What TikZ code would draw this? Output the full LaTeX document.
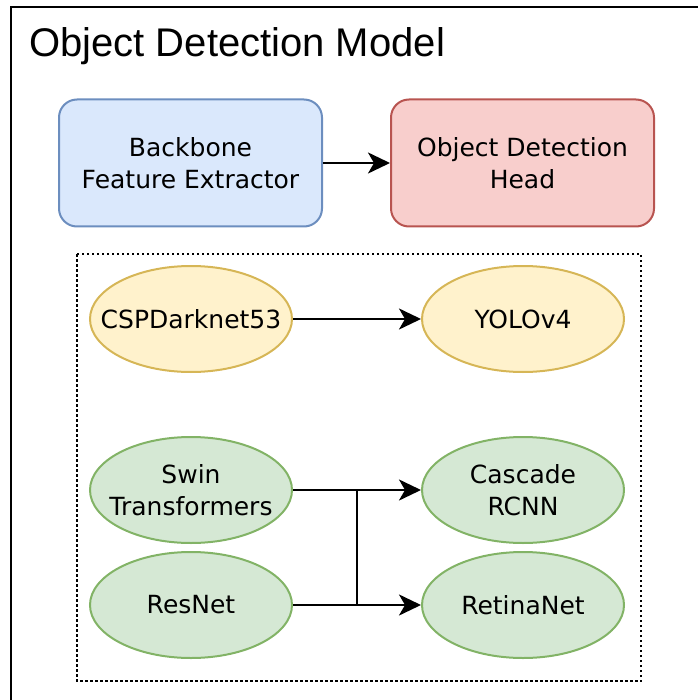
\documentclass[tikz,border=0pt]{standalone}
\usepackage{fontspec}
\setmainfont{DejaVu Sans}
\newfontfamily\titlefont{Liberation Sans}
\usepackage{tikz}
\usetikzlibrary{shapes, arrows.meta, positioning, calc}

\definecolor{bluefill}{HTML}{DAE8FC}
\definecolor{bluedraw}{HTML}{6C8EBF}
\definecolor{redfill}{HTML}{F8CECC}
\definecolor{reddraw}{HTML}{B85450}
\definecolor{yellowfill}{HTML}{FFF2CC}
\definecolor{yellowdraw}{HTML}{D6B656}
\definecolor{greenfill}{HTML}{D5E8D4}
\definecolor{greendraw}{HTML}{82B366}

\begin{document}
\begin{tikzpicture}[x=1pt, y=-1pt, font=\fontsize{25}{32}\selectfont,
  block/.style={draw, rounded corners=18pt, line width=2pt, minimum width=263pt, minimum height=127pt, align=center},
  model/.style={ellipse, draw, line width=2pt, minimum width=202pt, minimum height=106pt, inner xsep=-25pt, inner ysep=0pt, align=center},
  link/.style={-{Stealth[length=22pt, width=21pt, inset=6pt]}, line width=2.5pt}]
  \useasboundingbox (0,0) rectangle (697,700);

  % Frame and title
  \draw[line width=2.5pt] (11,712) -- (11,7) -- (712,7);
  \node[anchor=base west, inner sep=0pt, font=\titlefont\fontsize{40}{46}\selectfont] (title) at (29,57) {Object Detection Model};

  % Generic model
  \node[block, fill=bluefill, draw=bluedraw] (backbone) at (190.5,163) {Backbone\\Feature Extractor};
  \node[block, fill=redfill, draw=reddraw] (head) at (522.5,163) {Object Detection\\Head};
  \draw[link] (backbone) -- (head);

  % Examples
  \draw[line width=2pt, dash pattern=on 2.5pt off 2.5pt] (77,254) rectangle (641,681);

  \node[model, fill=yellowfill, draw=yellowdraw] (csp) at (191,319) {CSPDarknet53};
  \node[model, fill=yellowfill, draw=yellowdraw] (yolo) at (523,319) {YOLOv4};
  \node[model, fill=greenfill, draw=greendraw] (swin) at (191,490) {Swin\\Transformers};
  \node[model, fill=greenfill, draw=greendraw] (cascade) at (523,490) {Cascade\\RCNN};
  \node[model, fill=greenfill, draw=greendraw] (resnet) at (191,605) {ResNet};
  \node[model, fill=greenfill, draw=greendraw] (retina) at (523,605) {RetinaNet};

  \coordinate (jtop) at (357,490);
  \coordinate (jbot) at (357,605);

  \draw[link] (csp) -- (yolo);
  \draw[link] (swin) -- (cascade);
  \draw[link] (resnet) -- (retina);
  \draw[line width=2.5pt] (jtop) -- (jbot);
\end{tikzpicture}
\end{document}
